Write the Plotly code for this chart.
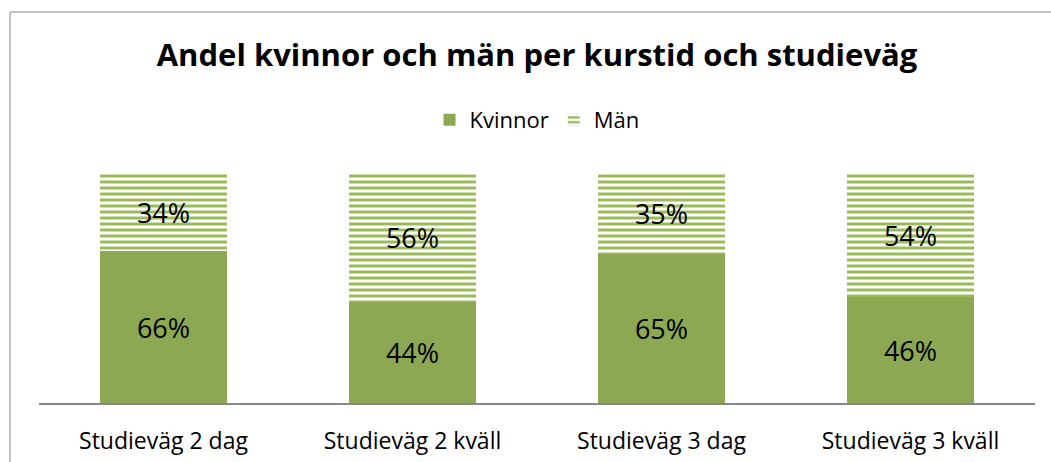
import plotly.graph_objects as go

categories = ["Studieväg 2 dag", "Studieväg 2 kväll", "Studieväg 3 dag", "Studieväg 3 kväll"]
kvinnor = [0.66, 0.44, 0.65, 0.46]
man = [0.34, 0.56, 0.35, 0.54]
series_names = ["Kvinnor", "Män"]
title_text = "Andel kvinnor och män per kurstid och studieväg"

FONT = "Open Sans"
W, H = 1051, 462
ml, mr, mt, mb = 39, 16, 173, 59
pw = W - ml - mr
ph = H - mt - mb

fig = go.Figure()
fig.add_trace(go.Bar(
    x=categories, y=kvinnor, name=series_names[0],
    marker=dict(color="#8CA853", line=dict(width=0)),
    width=0.514,
    texttemplate="%{y:.0%}", textposition="inside", insidetextanchor="middle",
    textangle=0, constraintext="none",
    textfont=dict(family=FONT, size=27, color="black"),
))
fig.add_trace(go.Bar(
    x=categories, y=man, name=series_names[1],
    marker=dict(color="white", line=dict(width=0),
                pattern=dict(shape="-", size=6, solidity=0.5, fgopacity=1,
                             fgcolor="#9BBB59", bgcolor="white", fillmode="replace")),
    width=0.514,
    texttemplate="%{y:.0%}", textposition="inside", insidetextanchor="middle",
    textangle=0, constraintext="none",
    textfont=dict(family=FONT, size=27, color="black"),
))

def px_x(x):
    return (x - ml) / pw

def px_y(y):
    return (H - mb - y) / ph

fig.update_layout(
    width=W, height=H,
    margin=dict(l=ml, r=mr, t=mt, b=mb, pad=0),
    barmode="stack",
    plot_bgcolor="white", paper_bgcolor="white",
    font=dict(family=FONT, color="black"),
    title=dict(text="<b>" + title_text + "</b>", x=0.5, xref="paper", xanchor="center",
               y=1 - 55 / H, yref="container", yanchor="middle",
               font=dict(family=FONT, size=31, color="black")),
    legend=dict(orientation="h", x=0.5, xanchor="center", y=px_y(120), yanchor="middle",
                font=dict(family=FONT, size=22, color="black"),
                bgcolor="rgba(0,0,0,0)", traceorder="normal"),
    xaxis=dict(range=[-0.5, 3.5], showgrid=False, zeroline=False,
               showline=True, linecolor="#868686", linewidth=1.5,
               ticks="", ticklabelstandoff=17, automargin=False,
               tickfont=dict(family=FONT, size=23, color="black"),
               fixedrange=True),
    yaxis=dict(range=[0, 1], showgrid=False, zeroline=False, showline=False,
               showticklabels=False, ticks="", fixedrange=True, automargin=False),
    showlegend=True,
    bargap=0,
)

fig.add_shape(type="rect", xref="paper", yref="paper",
              x0=px_x(10), x1=px_x(1080), y0=px_y(500), y1=px_y(12),
              line=dict(color="#868686", width=1), fillcolor="rgba(0,0,0,0)", layer="below")

fig.write_html("out.html", config={"displayModeBar": False},
               post_script="document.body.style.margin='0';document.body.style.overflow='hidden';")
